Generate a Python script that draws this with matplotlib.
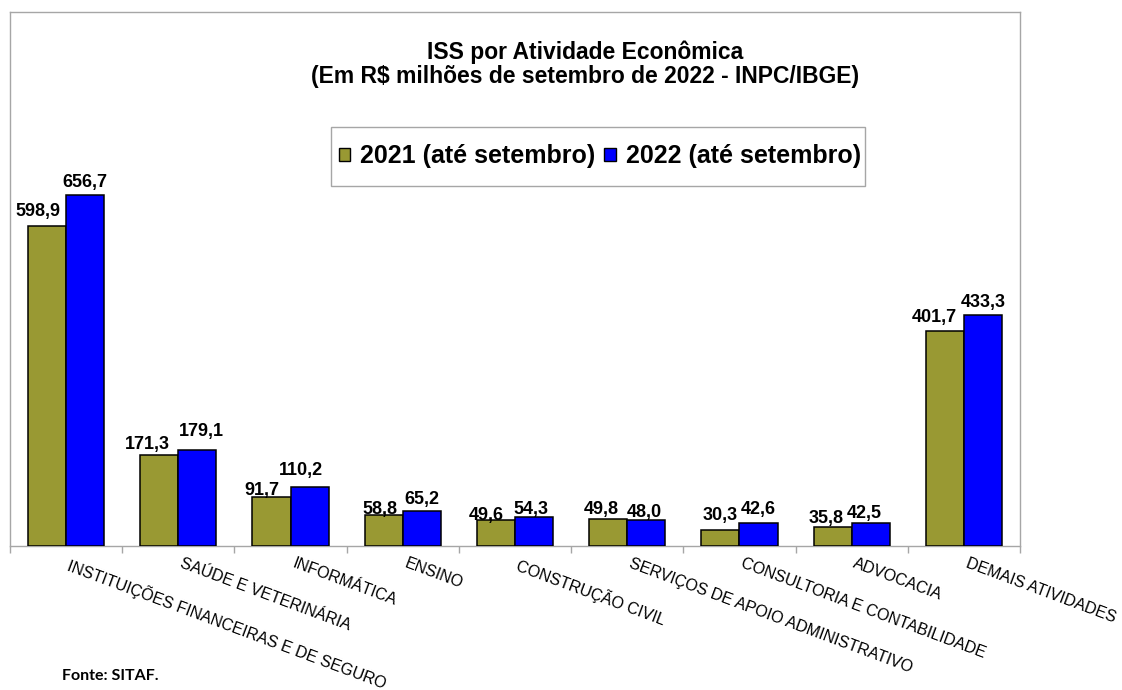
import matplotlib
matplotlib.use("Agg")
import matplotlib.pyplot as plt
import matplotlib.transforms as mtransforms
from matplotlib.patches import Patch, Rectangle
import numpy as np

categories = [
    "INSTITUIÇÕES FINANCEIRAS E DE SEGURO",
    "SAÚDE E VETERINÁRIA",
    "INFORMÁTICA",
    "ENSINO",
    "CONSTRUÇÃO CIVIL",
    "SERVIÇOS DE APOIO ADMINISTRATIVO",
    "CONSULTORIA E CONTABILIDADE",
    "ADVOCACIA",
    "DEMAIS ATIVIDADES",
]
values_2021 = [598.9, 171.3, 91.7, 58.8, 49.6, 49.8, 30.3, 35.8, 401.7]
values_2022 = [656.7, 179.1, 110.2, 65.2, 54.3, 48.0, 42.6, 42.5, 433.3]
series_labels = ["2021 (até setembro)", "2022 (até setembro)"]
title_lines = ["ISS por Atividade Econômica",
               "(Em R$ milhões de setembro de 2022 - INPC/IBGE)"]
source_note = "Fonte: SITAF."

# hand-placed value labels: (horizontal shift, baseline gap above bar) in pixels
label_offsets_2021 = [(-9, 10), (-12, 6), (-10, 2), (-4, 1), (-10, 0),
                      (-7, 5), (0, 10), (-6, 4), (-10, 9)]
label_offsets_2022 = [(0, 8), (4, 14), (-9, 12), (0, 7), (-3, 3),
                      (-2, 3), (0, 9), (-6, 5), (0, 8)]

plt.rcParams["font.family"] = ["Liberation Sans", "DejaVu Sans"]

W, H = 1122, 690
fig = plt.figure(figsize=(W / 100, H / 100), dpi=100)
ax = fig.add_axes([10 / W, 1 - 546 / H, 1010 / W, 534 / H])

olive = "#999933"
blue = "#0000FF"
frame_grey = "#a6a6a6"
width = 0.34
x = np.arange(len(categories))

b1 = ax.bar(x - width / 2, values_2021, width, color=olive,
            edgecolor="black", linewidth=1.1, zorder=3)
b2 = ax.bar(x + width / 2, values_2022, width, color=blue,
            edgecolor="black", linewidth=1.1, zorder=3)

def fmt(v):
    return f"{v:.1f}".replace(".", ",")

for bars, vals, offs in ((b1, values_2021, label_offsets_2021),
                         (b2, values_2022, label_offsets_2022)):
    for rect, v, (dx, dy) in zip(bars, vals, offs):
        ax.annotate(fmt(v), (rect.get_x() + rect.get_width() / 2, v),
                    xytext=(dx, dy), textcoords="offset pixels",
                    ha="center", va="baseline", fontsize=13,
                    fontweight="bold", color="black", zorder=4)

ax.set_xlim(-0.5, len(categories) - 0.5)
ax.set_ylim(0, 1000)
ax.set_yticks([])

for side in ("left", "right", "top", "bottom"):
    ax.spines[side].set_color(frame_grey)
    ax.spines[side].set_linewidth(1.0)

# tick marks at group boundaries, category names below each group centre
ax.set_xticks([])
ax.set_xticks(np.arange(-0.5, len(categories), 1.0), minor=True)
ax.tick_params(axis="x", which="minor", length=5, color=frame_grey,
               width=1, labelbottom=False)

label_tf = (mtransforms.blended_transform_factory(ax.transData, ax.transAxes)
            + mtransforms.ScaledTranslation(5 / 100, -10 / 100,
                                            fig.dpi_scale_trans))
for i, cat in enumerate(categories):
    ax.text(i, 0, cat, transform=label_tf, rotation=-20.5,
            rotation_mode="anchor", ha="left", va="top", fontsize=11.5,
            color="black", clip_on=False)

fig.text(585 / W, 1 - 52 / H, title_lines[0], ha="center", va="center",
         fontsize=16.5, fontweight="bold")
fig.text(585 / W, 1 - 76 / H, title_lines[1], ha="center", va="center",
         fontsize=16.5, fontweight="bold")

# legend box
fig.patches.append(Rectangle((331 / W, 1 - 186 / H), 534 / W, 59 / H,
                             transform=fig.transFigure, facecolor="white",
                             edgecolor=frame_grey, linewidth=1.0, zorder=5))
handles = [Patch(facecolor=olive, edgecolor="black", linewidth=1),
           Patch(facecolor=blue, edgecolor="black", linewidth=1)]
leg = fig.legend(handles, series_labels, loc="center",
                 bbox_to_anchor=(600 / W, 1 - 156.5 / H), ncol=2,
                 prop={"weight": "bold", "size": 18},
                 frameon=False, borderpad=0, borderaxespad=0,
                 handlelength=0.45, handleheight=0.45, handletextpad=0.4,
                 columnspacing=0.35)
leg.set_zorder(6)

fig.text(62 / W, 1 - 676 / H, source_note, ha="left", va="center",
         fontsize=11.5, fontweight="bold", family=["Lato", "DejaVu Sans"])

fig.savefig("out.png", dpi=100, facecolor="white")
